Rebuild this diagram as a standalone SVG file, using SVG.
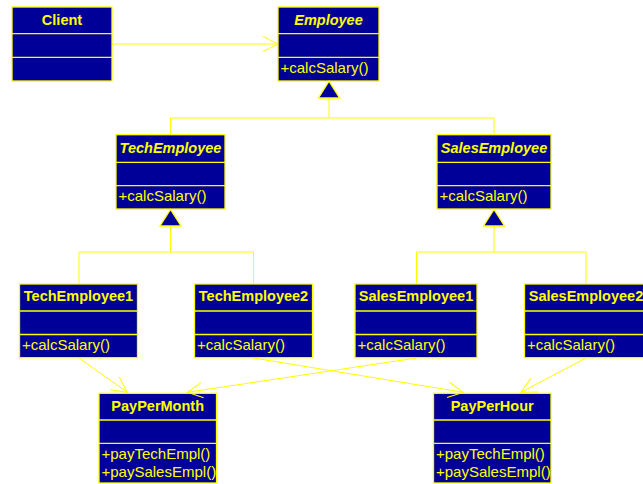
<svg xmlns="http://www.w3.org/2000/svg" width="643" height="484" viewBox="0 0 643 484">
<style>
.box{fill:#000099;stroke:#FFFF00;stroke-width:1.3}
.div{stroke:#FFFF00;stroke-width:1.3}
.t{font-family:"Liberation Sans",Arial,sans-serif;font-size:14.5px;font-weight:bold;fill:#FFFF00;text-anchor:middle}
.ti{font-style:italic}
.m{font-family:"Liberation Sans",Arial,sans-serif;font-size:15px;fill:#FFFF00}
.c{fill:none;stroke:#FFFF00;stroke-width:1}
.tri{fill:#000099;stroke:#FFFF00;stroke-width:1.3}
</style>
<defs>
<marker id="open" markerUnits="userSpaceOnUse" viewBox="-18 -10 20 20" refX="0" refY="0" markerWidth="20" markerHeight="20" orient="auto" overflow="visible">
<path d="M-15.2,-7.7 L0,0 L-15.2,7.7" fill="none" stroke="#FFFF00" stroke-width="1"/>
</marker>
</defs>
<rect width="643" height="484" fill="#FFFFFF"/>

<g id="Client">
<rect class="box" x="12" y="7" width="100" height="74"/>
<line class="div" x1="12" y1="33.7" x2="112" y2="33.7"/>
<line class="div" x1="12" y1="57.3" x2="112" y2="57.3"/>
<text class="t" x="62" y="25">Client</text>
</g>

<g id="Employee">
<rect class="box" x="278" y="7" width="101" height="74"/>
<line class="div" x1="278" y1="33.7" x2="379" y2="33.7"/>
<line class="div" x1="278" y1="57.3" x2="379" y2="57.3"/>
<text class="t ti" x="328.5" y="25">Employee</text>
<text class="m" x="280.5" y="72.7">+calcSalary()</text>
</g>

<g id="TechEmployee">
<rect class="box" x="116" y="134.7" width="109" height="74.3"/>
<line class="div" x1="116" y1="162.3" x2="225" y2="162.3"/>
<line class="div" x1="116" y1="185.7" x2="225" y2="185.7"/>
<text class="t ti" x="170.5" y="152.5">TechEmployee</text>
<text class="m" x="118.5" y="201.2">+calcSalary()</text>
</g>

<g id="SalesEmployee">
<rect class="box" x="437" y="134.7" width="114" height="74.3"/>
<line class="div" x1="437" y1="162.3" x2="551" y2="162.3"/>
<line class="div" x1="437" y1="185.7" x2="551" y2="185.7"/>
<text class="t ti" x="494" y="152.5">SalesEmployee</text>
<text class="m" x="439.5" y="201.2">+calcSalary()</text>
</g>

<g id="TechEmployee1">
<rect class="box" x="19.5" y="284" width="118" height="73.7"/>
<line class="div" x1="19.5" y1="311" x2="137.5" y2="311"/>
<line class="div" x1="19.5" y1="334.5" x2="137.5" y2="334.5"/>
<text class="t" x="78.5" y="301">TechEmployee1</text>
<text class="m" x="22" y="350">+calcSalary()</text>
</g>

<g id="TechEmployee2">
<rect class="box" x="194.5" y="284" width="118" height="73.7"/>
<line class="div" x1="194.5" y1="311" x2="312.5" y2="311"/>
<line class="div" x1="194.5" y1="334.5" x2="312.5" y2="334.5"/>
<text class="t" x="253.5" y="301">TechEmployee2</text>
<text class="m" x="197" y="350">+calcSalary()</text>
</g>

<g id="SalesEmployee1">
<rect class="box" x="355" y="284" width="122" height="73.7"/>
<line class="div" x1="355" y1="311" x2="477" y2="311"/>
<line class="div" x1="355" y1="334.5" x2="477" y2="334.5"/>
<text class="t" x="416" y="301">SalesEmployee1</text>
<text class="m" x="357.5" y="350">+calcSalary()</text>
</g>

<g id="SalesEmployee2">
<rect class="box" x="524.5" y="284" width="123" height="73.7"/>
<line class="div" x1="524.5" y1="311" x2="647.5" y2="311"/>
<line class="div" x1="524.5" y1="334.5" x2="647.5" y2="334.5"/>
<text class="t" x="586" y="301">SalesEmployee2</text>
<text class="m" x="527" y="350">+calcSalary()</text>
</g>

<g id="PayPerMonth">
<rect class="box" x="99" y="393.3" width="117.5" height="89.7"/>
<line class="div" x1="99" y1="420" x2="216.5" y2="420"/>
<line class="div" x1="99" y1="443.3" x2="216.5" y2="443.3"/>
<text class="t" x="157.7" y="410.8">PayPerMonth</text>
<text class="m" x="101.5" y="459">+payTechEmpl()</text>
<text class="m" x="101.5" y="476.7">+paySalesEmpl()</text>
</g>

<g id="PayPerHour">
<rect class="box" x="433.5" y="393.3" width="117.5" height="89.7"/>
<line class="div" x1="433.5" y1="420" x2="551" y2="420"/>
<line class="div" x1="433.5" y1="443.3" x2="551" y2="443.3"/>
<text class="t" x="492.2" y="410.8">PayPerHour</text>
<text class="m" x="436" y="459">+payTechEmpl()</text>
<text class="m" x="436" y="476.7">+paySalesEmpl()</text>
</g>

<g id="connectors">
<line class="c" x1="112" y1="44" x2="278" y2="44" marker-end="url(#open)"/>
<polyline class="c" points="329,98 329,118"/>
<polyline class="c" points="170.5,134.7 170.5,118 494,118 494,134.7"/>
<polygon class="tri" points="329,81.2 318.5,98 339.5,98"/>
<polyline class="c" points="170.5,226 170.5,252"/>
<polyline class="c" points="79,284 79,252 253.5,252 253.5,284"/>
<polygon class="tri" points="170.5,209.5 160,226 181,226"/>
<polyline class="c" points="494,226 494,252"/>
<polyline class="c" points="416.5,284 416.5,252 586,252 586,284"/>
<polygon class="tri" points="494,209.5 483.5,226 504.5,226"/>
<line class="c" x1="79" y1="358" x2="127.3" y2="392.3" marker-end="url(#open)"/>
<line class="c" x1="416.5" y1="358" x2="187.5" y2="392.3" marker-end="url(#open)"/>
<line class="c" x1="253.5" y1="358" x2="463.3" y2="392.3" marker-end="url(#open)"/>
<line class="c" x1="586" y1="358" x2="521" y2="392.3" marker-end="url(#open)"/>
</g>
</svg>
